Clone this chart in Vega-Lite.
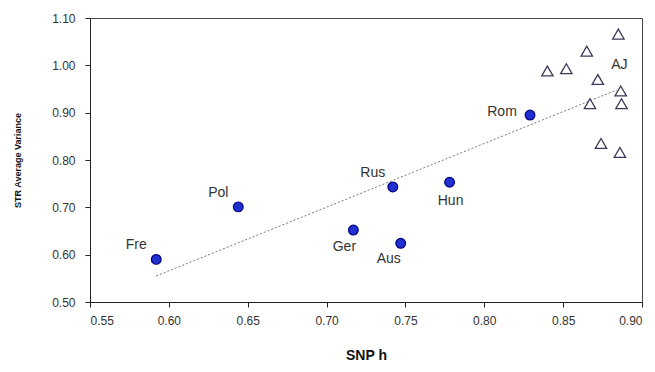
{
  "$schema": "https://vega.github.io/schema/vega-lite/v6.json",
  "width": 552,
  "height": 284,
  "autosize": {"type": "none"},
  "padding": {"left": 90, "top": 18, "right": 13, "bottom": 70},
  "background": "white",
  "config": {
    "view": {"stroke": "#444444", "strokeWidth": 1},
    "font": "Liberation Sans",
    "axis": {
      "grid": false,
      "domainColor": "#222222",
      "tickColor": "#222222",
      "tickSize": 5,
      "labelColor": "#333333",
      "labelFontSize": 12,
      "labelFont": "Liberation Sans",
      "titleFont": "Liberation Sans",
      "titleColor": "#111111"
    }
  },
  "datasets": {
    "pops": [
      {"pop": "Fre", "h": 0.592, "v": 0.590},
      {"pop": "Pol", "h": 0.644, "v": 0.701},
      {"pop": "Ger", "h": 0.717, "v": 0.652},
      {"pop": "Aus", "h": 0.747, "v": 0.624},
      {"pop": "Rus", "h": 0.742, "v": 0.743},
      {"pop": "Hun", "h": 0.778, "v": 0.753},
      {"pop": "Rom", "h": 0.829, "v": 0.895}
    ],
    "aj": [
      {"pop": "AJ", "h": 0.885, "v": 1.066},
      {"pop": "AJ", "h": 0.865, "v": 1.030},
      {"pop": "AJ", "h": 0.840, "v": 0.988},
      {"pop": "AJ", "h": 0.852, "v": 0.993},
      {"pop": "AJ", "h": 0.872, "v": 0.970},
      {"pop": "AJ", "h": 0.8865, "v": 0.946},
      {"pop": "AJ", "h": 0.867, "v": 0.919},
      {"pop": "AJ", "h": 0.887, "v": 0.919},
      {"pop": "AJ", "h": 0.874, "v": 0.835},
      {"pop": "AJ", "h": 0.886, "v": 0.816}
    ],
    "trend": [
      {"h": 0.592, "v": 0.555},
      {"h": 0.884, "v": 0.948}
    ]
  },
  "encoding": {
    "x": {
      "field": "h", "type": "quantitative",
      "scale": {"domain": [0.55, 0.90], "nice": false, "zero": false},
      "axis": {"values": [0.55, 0.6, 0.65, 0.7, 0.75, 0.8, 0.85, 0.9], "format": ".2f", "title": "SNP h", "titleFontSize": 14, "titleFontWeight": "bold", "titlePadding": 22, "labelPadding": 8}
    },
    "y": {
      "field": "v", "type": "quantitative",
      "scale": {"domain": [0.5, 1.1], "nice": false, "zero": false},
      "axis": {"values": [0.5, 0.6, 0.7, 0.8, 0.9, 1.0, 1.1], "format": ".2f", "title": "STR Average Variance", "titleFontSize": 9, "titleFontWeight": "bold", "titlePadding": 29, "labelPadding": 10}
    }
  },
  "layer": [
    {
      "data": {"name": "trend"},
      "mark": {"type": "line", "color": "#777777", "strokeWidth": 1, "strokeDash": [2, 2]}
    },
    {
      "data": {"name": "aj"},
      "mark": {"type": "point", "shape": "triangle-up", "filled": false, "stroke": "#3a3a5a", "strokeWidth": 1.3, "size": 130, "opacity": 1}
    },
    {
      "data": {"name": "pops"},
      "mark": {"type": "point", "shape": "circle", "filled": true, "fill": "#1f2fd0", "stroke": "#000080", "strokeWidth": 1.2, "size": 95, "opacity": 1}
    },
    {
      "data": {"name": "pops"},
      "transform": [{"filter": "indexof(['Fre','Pol','Rus'], datum.pop) >= 0"}],
      "mark": {"type": "text", "fontSize": 14, "color": "#333333", "dx": -20, "dy": -14},
      "encoding": {"text": {"field": "pop"}}
    },
    {
      "data": {"name": "pops"},
      "transform": [{"filter": "datum.pop == 'Hun'"}],
      "mark": {"type": "text", "fontSize": 14, "color": "#333333", "dx": 1, "dy": 19},
      "encoding": {"text": {"field": "pop"}}
    },
    {
      "data": {"name": "pops"},
      "transform": [{"filter": "datum.pop == 'Ger'"}],
      "mark": {"type": "text", "fontSize": 14, "color": "#333333", "dx": -9, "dy": 17},
      "encoding": {"text": {"field": "pop"}}
    },
    {
      "data": {"name": "pops"},
      "transform": [{"filter": "datum.pop == 'Aus'"}],
      "mark": {"type": "text", "fontSize": 14, "color": "#333333", "dx": -12, "dy": 16},
      "encoding": {"text": {"field": "pop"}}
    },
    {
      "data": {"name": "pops"},
      "transform": [{"filter": "datum.pop == 'Rom'"}],
      "mark": {"type": "text", "fontSize": 14, "color": "#333333", "dx": -28, "dy": -3},
      "encoding": {"text": {"field": "pop"}}
    },
    {
      "data": {"name": "aj"},
      "transform": [{"filter": "datum.v > 1.06"}],
      "mark": {"type": "text", "fontSize": 14, "color": "#333333", "dx": 1, "dy": 31},
      "encoding": {"text": {"field": "pop"}}
    }
  ]
}
